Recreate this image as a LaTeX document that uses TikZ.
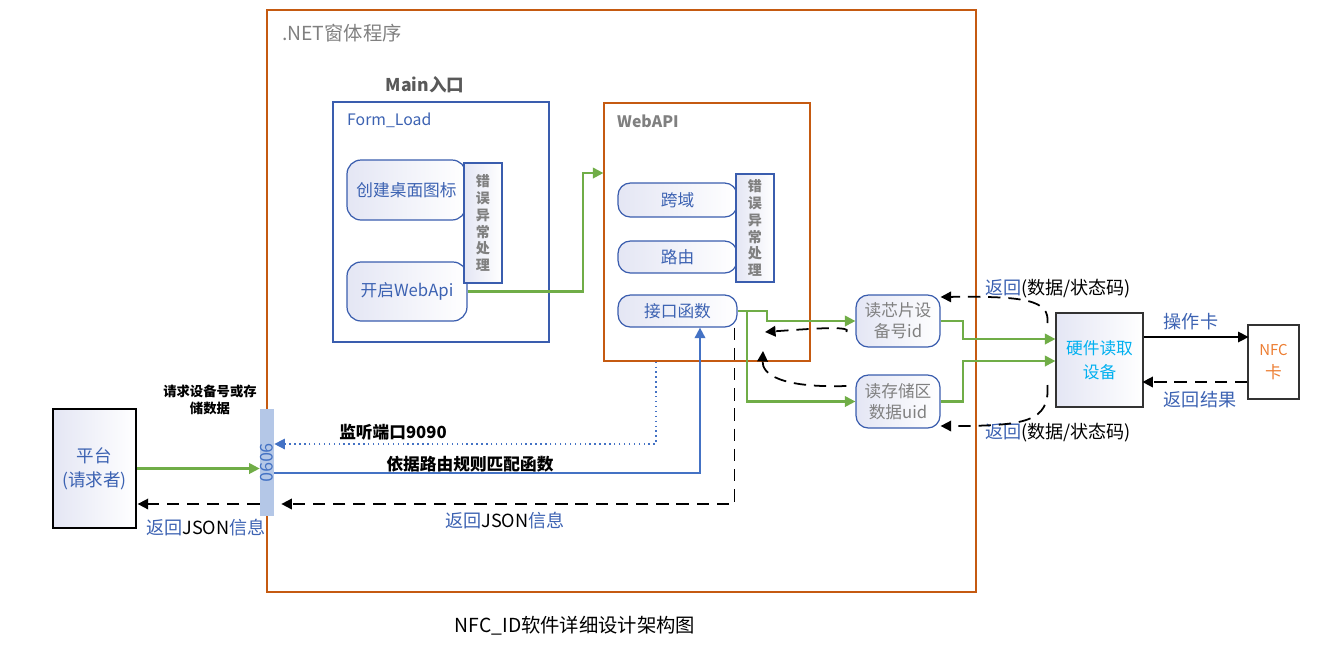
\documentclass[tikz,border=0pt]{standalone}
\usepackage{fontspec}
\setmainfont{Noto Sans CJK SC}
\usepackage{xcolor}
\usetikzlibrary{positioning, arrows.meta}

\definecolor{framered}{HTML}{C55A11}
\definecolor{lineblue}{HTML}{3A5DAE}
\definecolor{textblue}{HTML}{3C62B2}
\definecolor{boxshade}{HTML}{E4E6F4}
\definecolor{linegreen}{HTML}{70AD47}
\definecolor{barblue}{HTML}{B4C7E7}
\definecolor{arrowblue}{HTML}{4472C4}
\definecolor{labelgray}{HTML}{808080}
\definecolor{titlegray}{HTML}{595959}
\definecolor{devcyan}{HTML}{00B0F0}
\definecolor{nfcorange}{HTML}{ED7D31}

\begin{document}
\begin{tikzpicture}[
            x=0.02cm, y=-0.02cm,
            frame/.style={
                    draw=framered,
                    line width=0.7pt,
                    inner sep=0pt
                },
            panel/.style={
                    draw=lineblue,
                    line width=0.7pt,
                    inner sep=0pt
                },
            fnbox/.style={
                    draw=lineblue,
                    line width=0.7pt,
                    rounded corners=7pt,
                    left color=boxshade,
                    right color=white,
                    inner sep=0pt,
                    align=center,
                    text=textblue,
                    font=\fontsize{9.5}{12}\selectfont
                },
            errbox/.style={
                    draw=lineblue,
                    line width=0.7pt,
                    left color=boxshade,
                    right color=white,
                    inner sep=0pt,
                    align=center,
                    text=labelgray,
                    font=\fontsize{8}{9.6}\selectfont\bfseries
                },
            hwbox/.style={
                    draw=black!80,
                    line width=0.7pt,
                    left color=boxshade,
                    right color=white,
                    inner sep=0pt,
                    align=center,
                    font=\fontsize{9.5}{13.5}\selectfont
                },
            note/.style={
                    font=\fontsize{9.5}{11}\selectfont\bfseries
                },
            ret/.style={
                    font=\fontsize{10.3}{12}\selectfont
                },
            garrow/.style={
                    -{Triangle[length=6pt,width=6pt]},
                    draw=linegreen,
                    line width=1.2pt
                },
            barrow/.style={
                    -{Triangle[length=6pt,width=6pt]},
                    draw=arrowblue,
                    line width=1.1pt
                },
            dotarrow/.style={
                    -{Triangle[length=6pt,width=6pt]},
                    draw=arrowblue,
                    line width=0.8pt,
                    dotted
                },
            darrow/.style={
                    -{Triangle[length=6pt,width=6pt]},
                    line width=1pt,
                    dash pattern=on 7pt off 4.5pt
                },
            karrow/.style={
                    -{Triangle[length=6pt,width=6pt]},
                    line width=0.8pt
                }
        ]

        \useasboundingbox (0,0) rectangle (1335,654);


        \node[frame, minimum width=14.18cm, minimum height=11.64cm] (net) at (621.5,301) {};
        \node[anchor=west, text=labelgray, font=\fontsize{11}{13}\selectfont] (nettitle) at (276,33) {.NET窗体程序};


        \node[font=\fontsize{10}{12}\selectfont\bfseries, text=titlegray] (maintitle) at (425,85) {Main入口};
        \node[panel, minimum width=4.32cm, minimum height=4.8cm] (formload) at (441,222) {};
        \node[anchor=west, text=textblue, font=\fontsize{9}{11}\selectfont] (formtitle) at (341,120) {Form\_Load};


        \node[fnbox, rounded corners=8pt, minimum width=2.38cm, minimum height=1.2cm] (desk) at (406.5,190) {创建桌面图标};
        \node[fnbox, rounded corners=8pt, minimum width=2.4cm, minimum height=1.18cm] (startapi) at (407,291.5) {开启WebApi};
        \node[errbox, minimum width=0.76cm, minimum height=2.4cm] (err1) at (483,223) {错\\误\\异\\常\\处\\理};


        \node[frame, minimum width=4.12cm, minimum height=5.16cm] (webapi) at (707,232) {};
        \node[anchor=west, text=labelgray, font=\fontsize{9}{11}\selectfont\bfseries] (webtitle) at (611,121) {WebAPI};


        \node[fnbox, minimum width=2.38cm, minimum height=0.68cm] (cors) at (677.5,200) {跨域};
        \node[fnbox, minimum width=2.38cm, minimum height=0.64cm] (route) at (677.5,257) {路由};
        \node[fnbox, minimum width=2.38cm, minimum height=0.64cm] (func) at (677.5,311) {接口函数};
        \node[errbox, minimum width=0.76cm, minimum height=2.16cm] (err2) at (755,228) {错\\误\\异\\常\\处\\理};


        \node[fnbox, text=labelgray, minimum width=1.68cm, minimum height=1.04cm] (readid) at (898,321) {读芯片设\\备号id};
        \node[fnbox, text=labelgray, minimum width=1.68cm, minimum height=1.06cm] (readuid) at (898,401.5) {读存储区\\数据uid};


        \node[hwbox, text=devcyan, minimum width=1.74cm, minimum height=1.88cm] (device) at (1099.5,360) {硬件读取\\设备};
        \node[hwbox, fill=white, left color=white, text=nfcorange, minimum width=1.02cm, minimum height=1.48cm] (nfc) at (1273.5,362) {{\fontsize{8.5}{13}\selectfont NFC}\\卡};


        \node[hwbox, draw=black, line width=1pt, text=textblue, font=\fontsize{10}{13.5}\selectfont, minimum width=1.66cm, minimum height=2.38cm] (client) at (94.5,468.5) {平台\\(请求者)};
        \node[fill=barblue, inner sep=0pt, minimum width=0.28cm, minimum height=2.14cm] (port) at (267,462.5) {};
        \node[rotate=-90, text=arrowblue, font=\fontsize{10}{12}\selectfont] (portnum) at (port) {9090};


        % labels on the connectors
        \node[align=center, font=\fontsize{7.6}{9.6}\selectfont\bfseries] (reqlabel) at (210,400) {请求设备号或存\\储数据};
        \node[ret] (jsonleft) at (206,528) {\textcolor{textblue}{返回}JSON\textcolor{textblue}{信息}};
        \node[note] (listenlabel) at (393,432) {监听端口9090};
        \node[note] (matchlabel) at (470,464) {依据路由规则匹配函数};
        \node[ret] (jsonmid) at (505,521) {\textcolor{textblue}{返回}JSON\textcolor{textblue}{信息}};
        \node[ret] (rettop) at (1058,289) {\textcolor{textblue}{返回}(数据/状态码)};
        \node[ret] (retbot) at (1058,433) {\textcolor{textblue}{返回}(数据/状态码)};
        \node[ret, text=textblue] (oplabel) at (1191,322) {操作卡};
        \node[ret, text=textblue] (reslabel) at (1200,400) {返回结果};
        \node[font=\fontsize{11}{13}\selectfont] (caption) at (575,626) {NFC\_ID软件详细设计架构图};


        \coordinate (retid) at (765,332);
        \coordinate (retuid) at (763,351);


        \draw[garrow] (startapi.east) -- ++(115,0) |- ([yshift=1.18cm]webapi.west);
        \draw[garrow] (client.east) -- (client.east -| port.west);
        \draw[darrow] ([yshift=-0.83cm]port.west) -- ++(-122,0);
        \draw[dotarrow] ([xshift=-1.02cm]webapi.south) |- ([yshift=0.37cm]port.east);
        \draw[barrow] ([yshift=-0.21cm]port.east) -| ([xshift=0.45cm]func.south);
        \draw[darrow] ([xshift=-0.06cm]func.south east) |- ([yshift=-0.83cm,xshift=0.14cm]port.east);

        \draw[garrow] (func.east) -- ++(29,0) |- (readid.west);
        \draw[garrow] ([xshift=0.18cm]func.east) |- (readuid.west);
        \draw[darrow] ([xshift=-0.18cm,yshift=-0.22cm]readid.west) .. controls (852,326) and (820,328) .. (retid);
        \draw[darrow] ([xshift=-0.18cm,yshift=0.31cm]readuid.west) .. controls (780,388) and (762,374) .. (retuid);

        \draw[garrow] (readid.east) -- ++(22,0) |- ([yshift=0.42cm]device.west);
        \draw[garrow] (readuid.east) -- ++(22,0) |- ([yshift=-0.02cm]device.west);
        \draw[darrow] ([xshift=-0.16cm,yshift=0.74cm]device.west) .. controls (1050,300) and (1025,296) .. ([yshift=0.48cm]readid.east);
        \draw[darrow] ([xshift=-0.16cm,yshift=-0.5cm]device.west) .. controls (1050,422) and (1025,426) .. ([yshift=-0.49cm]readuid.east);

        \draw[karrow] ([yshift=0.46cm]device.east) -- ++(105,0);
        \draw[darrow] ([yshift=-0.4cm]nfc.west) -- ++(-105,0);


    \end{tikzpicture}
\end{document}
